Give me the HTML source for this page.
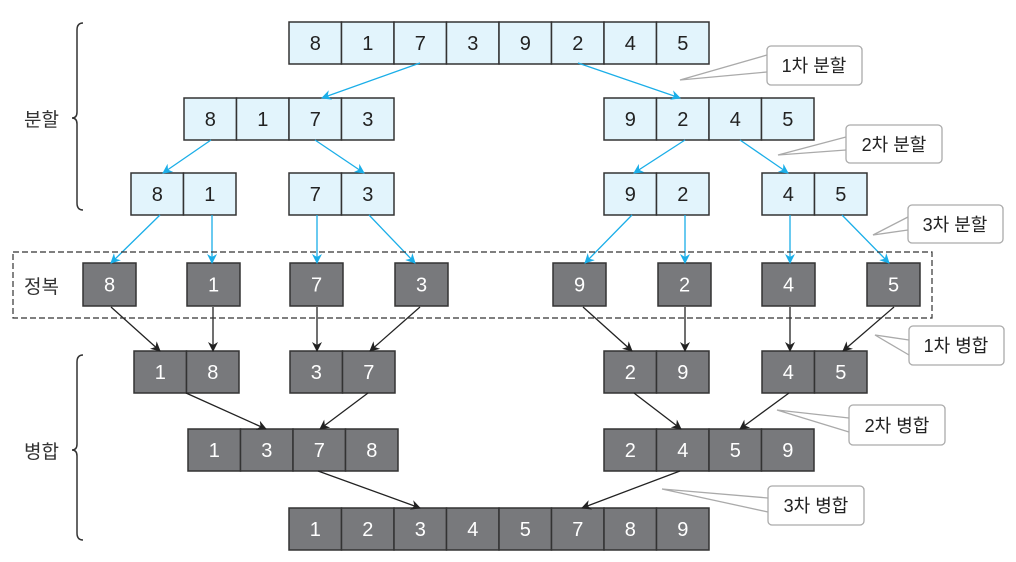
<!DOCTYPE html><html><head><meta charset="utf-8"><style>body{margin:0;background:#fff}svg{display:block}text{font-family:"Liberation Sans","Noto Sans CJK KR",sans-serif}</style></head><body>
<svg width="1016" height="562" viewBox="0 0 1016 562" xmlns="http://www.w3.org/2000/svg">
<defs>
<marker id="b" markerWidth="10" markerHeight="10" refX="9" refY="5" orient="auto" markerUnits="userSpaceOnUse"><path d="M0,0 L10,5 L0,10 L3,5z" fill="#1aaee8"/></marker>
<marker id="k" markerWidth="10" markerHeight="10" refX="9" refY="5" orient="auto" markerUnits="userSpaceOnUse"><path d="M0,0 L10,5 L0,10 L3,5z" fill="#222"/></marker>
</defs>
<g id="cells" font-size="20" text-anchor="middle"></g>
<script>
var g=document.getElementById('cells'),NS='http://www.w3.org/2000/svg';
function row(x,y,vals,dark,w,h){w=w||52.5;h=h||42;vals.forEach(function(v,i){var r=document.createElementNS(NS,'rect');r.setAttribute('x',x+i*w);r.setAttribute('y',y);r.setAttribute('width',w);r.setAttribute('height',h);r.setAttribute('fill',dark?'#78797c':'#e2f4fc');r.setAttribute('stroke','#333');r.setAttribute('stroke-width','1.5');g.appendChild(r);var t=document.createElementNS(NS,'text');t.setAttribute('x',x+i*w+w/2);t.setAttribute('y',y+h/2+7);t.setAttribute('fill',dark?'#fff':'#222');t.textContent=v;g.appendChild(t);});}
row(289,22,[8,1,7,3,9,2,4,5]);
row(184,98,[8,1,7,3]);row(604,98,[9,2,4,5]);
row(131,173,[8,1]);row(289,173,[7,3]);row(604,173,[9,2]);row(762,173,[4,5]);
[[83,8],[187,1],[290,7],[395,3],[553,9],[658,2],[762,4],[867,5]].forEach(function(a){row(a[0],263,[a[1]],true,53,43);});
row(134,351,[1,8],true);row(290,351,[3,7],true);row(604,351,[2,9],true);row(762,351,[4,5],true);
row(188,429,[1,3,7,8],true);row(604,429,[2,4,5,9],true);
row(289,508,[1,2,3,4,5,7,8,9],true);
</script>
<g stroke="#1aaee8" stroke-width="1.3" marker-end="url(#b)" fill="none">
<line x1="420" y1="63" x2="322" y2="98"/><line x1="578" y1="63" x2="680" y2="98"/>
<line x1="211" y1="140" x2="163" y2="173"/><line x1="315" y1="140" x2="364" y2="173"/>
<line x1="685" y1="140" x2="634" y2="173"/><line x1="740" y1="140" x2="788" y2="173"/>
<line x1="160" y1="215" x2="111" y2="263"/><line x1="212" y1="215" x2="212" y2="263"/>
<line x1="317" y1="215" x2="317" y2="263"/><line x1="369" y1="215" x2="415" y2="263"/>
<line x1="632" y1="215" x2="585" y2="263"/><line x1="685" y1="215" x2="685" y2="263"/>
<line x1="790" y1="215" x2="790" y2="263"/><line x1="842" y1="215" x2="889" y2="263"/>
</g>
<g stroke="#222" stroke-width="1.3" marker-end="url(#k)" fill="none">
<line x1="111" y1="307" x2="160" y2="351"/><line x1="213" y1="307" x2="213" y2="351"/>
<line x1="317" y1="307" x2="317" y2="351"/><line x1="420" y1="307" x2="370" y2="351"/>
<line x1="583" y1="307" x2="632" y2="351"/><line x1="685" y1="307" x2="685" y2="351"/>
<line x1="790" y1="307" x2="790" y2="351"/><line x1="894" y1="307" x2="843" y2="351"/>
<line x1="186" y1="393" x2="266" y2="429"/><line x1="368" y1="393" x2="320" y2="429"/>
<line x1="634" y1="393" x2="681" y2="429"/><line x1="789" y1="393" x2="740" y2="429"/>
<line x1="318" y1="471" x2="420" y2="508"/><line x1="680" y1="471" x2="582" y2="508"/>
</g>
<rect x="13" y="252" width="919" height="66" fill="none" stroke="#333" stroke-width="1.2" stroke-dasharray="6,3"/>
<g fill="none" stroke="#333" stroke-width="1.5">
<path d="M83,23 Q77,23 77,30 L77,112 Q77,118 72,118 Q77,118 77,124 L77,203 Q77,210 83,210"/>
<path d="M83,355 Q77,355 77,362 L77,444 Q77,450 72,450 Q77,450 77,456 L77,533 Q77,540 83,540"/>
</g>
<g font-size="19" fill="#333">
<text x="24" y="126">분할</text><text x="24" y="293">정복</text><text x="24" y="458">병합</text>
</g>
<g fill="#fff" stroke="#aaa" stroke-width="1.3" font-size="18">
<path d="M767,55 L680,80 L767,72"/><rect x="767" y="46" width="95" height="39" rx="4"/>
<path d="M846,137 L778,155 L846,150"/><rect x="846" y="125" width="96" height="38" rx="4"/>
<path d="M908,217 L873,235 L908,230"/><rect x="908" y="205" width="95" height="38" rx="4"/>
<path d="M909,340 L875,335 L909,355"/><rect x="909" y="326" width="95" height="39" rx="4"/>
<path d="M849,418 L777,410 L849,432"/><rect x="849" y="405" width="96" height="40" rx="4"/>
<path d="M768,498 L662,489 L768,512"/><rect x="768" y="486" width="96" height="39" rx="4"/>
</g>
<g font-size="18" fill="#222" text-anchor="middle">
<text x="814" y="72">1차 분할</text><text x="894" y="151">2차 분할</text><text x="955" y="231">3차 분할</text>
<text x="956" y="352">1차 병합</text><text x="897" y="432">2차 병합</text><text x="816" y="512">3차 병합</text>
</g>
</svg>
</body></html>
